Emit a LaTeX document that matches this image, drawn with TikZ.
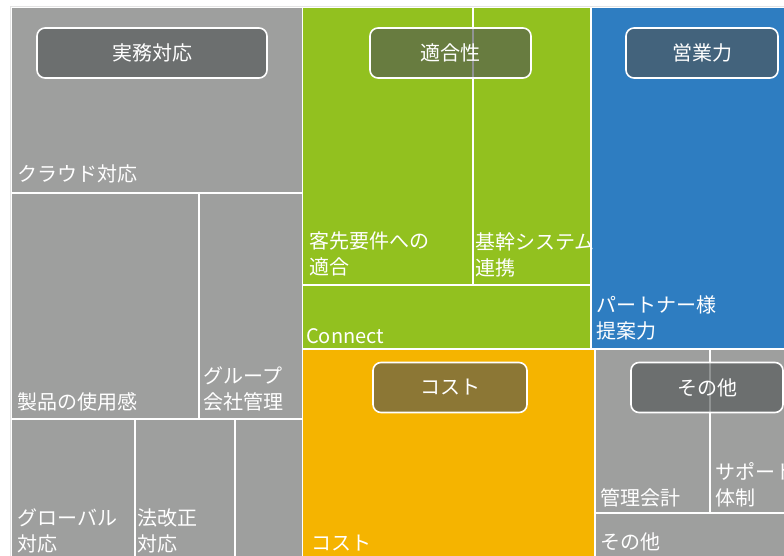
\documentclass[tikz,border=0pt]{standalone}
\usepackage{fontspec}
\setmainfont{Noto Sans CJK JP}[CharacterWidth=Proportional]
\definecolor{cgray}{RGB}{158,159,158}
\definecolor{cgreen}{RGB}{146,193,31}
\definecolor{cblue}{RGB}{46,125,193}
\definecolor{corange}{RGB}{245,180,0}
\definecolor{cbox}{RGB}{80,84,84}
\definecolor{cframe}{RGB}{228,228,228}
\newcommand\twolines[2]{\begin{tabular}[b]{@{}l@{}}#1\\#2\end{tabular}}
\tikzset{
  celllabel/.style={inner sep=0pt, anchor=base west, text=white, font=\fontsize{20}{26}\selectfont},
  tagbox/.style={draw=white, line width=1.6pt, rounded corners=8pt, fill=cbox, fill opacity=0.63,
    text opacity=1, text=white, font=\fontsize{20}{26}\selectfont, inner sep=0pt},
}
\begin{document}
\begin{tikzpicture}[x=1pt,y=-1pt]
\useasboundingbox (0,0) rectangle (784,555);
\clip (0,0) rectangle (784,555);
\fill[white] (0,0) rectangle (784,555);
\draw[cframe, line width=0.8pt] (10,6) rectangle (800,600);
% gray group
\fill[cgray] (12,8) rectangle (302,192);
\fill[cgray] (12,194) rectangle (198,418);
\fill[cgray] (200,194) rectangle (302,418);
\fill[cgray] (12,420) rectangle (134,600);
\fill[cgray] (136,420) rectangle (234,600);
\fill[cgray] (236,420) rectangle (302,600);
% green group
\fill[cgreen] (303,8) rectangle (472,284);
\fill[cgreen] (474,8) rectangle (590,284);
\fill[cgreen] (303,286) rectangle (590,348);
% blue
\fill[cblue] (592,8) rectangle (800,348);
% orange
\fill[corange] (303,350) rectangle (594,600);
% other group
\fill[cgray] (596,350) rectangle (709,512);
\fill[cgray] (711,350) rectangle (800,512);
\fill[cgray] (596,514) rectangle (800,600);
% cell labels
\node[celllabel] (cloud) at (17,181.5) {クラウド対応};
\node[celllabel] (product) at (17,409.5) {製品の使用感};
\node[celllabel] (groupco) at (203,409.5) {\twolines{グループ}{会社管理}};
\node[celllabel] (global) at (17,551.5) {\twolines{グローバル}{対応}};
\node[celllabel] (law) at (137,551.5) {\twolines{法改正}{対応}};
\node[celllabel] (client) at (309,274.5) {\twolines{客先要件への}{適合}};
\node[celllabel] (core) at (475,275.5) {\twolines{基幹システム}{連携}};
\node[celllabel] (connect) at (306,343) {Connect};
\node[celllabel] (partner) at (596,338.5) {\twolines{パートナー様}{提案力}};
\node[celllabel] (cost) at (311,550.5) {コスト};
\node[celllabel] (mgmt) at (600,505) {管理会計};
\node[celllabel] (support) at (715,505.5) {\twolines{サポート}{体制}};
\node[celllabel] (other) at (600,549.5) {その他};
% group tags
\node[tagbox, minimum width=230pt, minimum height=50pt] (tagA) at (152,53) {実務対応};
\node[tagbox, minimum width=161pt, minimum height=50pt] (tagB) at (450.5,53) {適合性};
\node[tagbox, minimum width=152pt, minimum height=50pt] (tagC) at (702,53) {営業力};
\node[tagbox, minimum width=154pt, minimum height=50pt] (tagD) at (450,387.5) {コスト};
\node[tagbox, minimum width=152pt, minimum height=50pt] (tagE) at (707,387.5) {その他};
\end{tikzpicture}
\end{document}
